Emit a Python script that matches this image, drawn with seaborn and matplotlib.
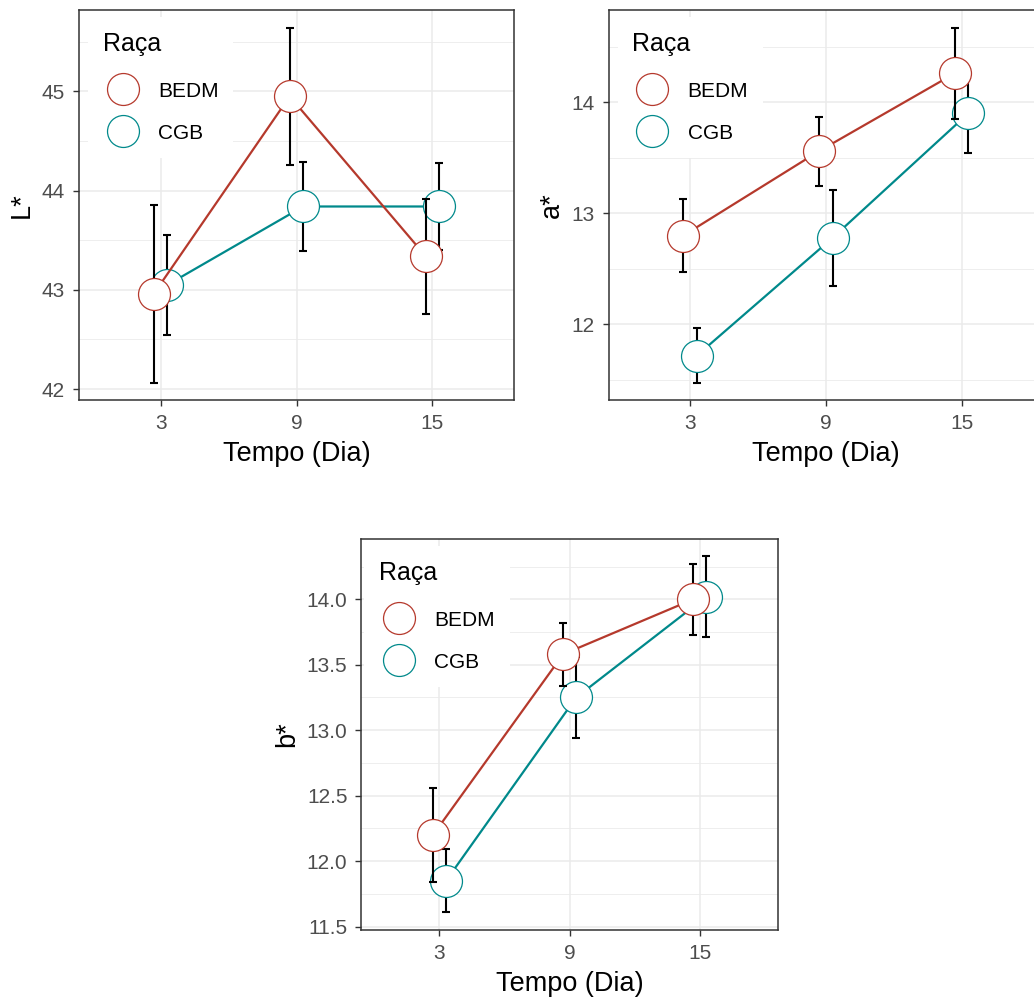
import numpy as np
import pandas as pd
import matplotlib
matplotlib.use("Agg")
import matplotlib.pyplot as plt
import seaborn as sns
from matplotlib.lines import Line2D
from matplotlib.ticker import FixedLocator

# ---------------- data ----------------
dias = ["3", "9", "15"]
racas = ["BEDM", "CGB"]

L_bedm = [42.96, 44.95, 43.34]
L_bedm_se = [0.90, 0.69, 0.58]
L_cgb = [43.05, 43.84, 43.84]
L_cgb_se = [0.50, 0.45, 0.44]

a_bedm = [12.80, 13.56, 14.26]
a_bedm_se = [0.33, 0.31, 0.41]
a_cgb = [11.72, 12.78, 13.90]
a_cgb_se = [0.245, 0.43, 0.355]

b_bedm = [12.20, 13.58, 14.00]
b_bedm_se = [0.36, 0.24, 0.27]
b_cgb = [11.85, 13.25, 14.02]
b_cgb_se = [0.24, 0.31, 0.31]

L_ticks = [42, 43, 44, 45]
a_ticks = [12, 13, 14]
b_ticks = [11.5, 12.0, 12.5, 13.0, 13.5, 14.0]

cores = {"BEDM": "#B5392C", "CGB": "#00898B"}

# ---------------- style ----------------
sns.set_theme(style="white")
plt.rcParams["font.family"] = ["Liberation Sans", "DejaVu Sans"]
plt.rcParams["text.color"] = "black"

W, H = 1034, 998
fig = plt.figure(figsize=(W / 100, H / 100), dpi=100)


def px_axes(left, top, right, bottom):
    return fig.add_axes([left / W, 1 - bottom / H, (right - left) / W, (bottom - top) / H])


def painel(ax, bedm, bedm_se, cgb, cgb_se, ylabel, ylim, ticks, fmt, leg_dx):
    df = pd.DataFrame({
        "Tempo": dias * 2,
        "Raça": ["BEDM"] * 3 + ["CGB"] * 3,
        "valor": list(bedm) + list(cgb),
        "se": list(bedm_se) + list(cgb_se),
    })
    sns.pointplot(data=df, x="Tempo", y="valor", hue="Raça", order=dias,
                  hue_order=racas, palette=cores, dodge=0.1, errorbar=None,
                  markers="o", legend=False, ax=ax)
    lines = list(ax.lines)
    z = {"BEDM": 3.5, "CGB": 2.5}
    for ln, r in zip(lines, racas):
        ln.set_markerfacecolor("white")
        ln.set_markeredgecolor(cores[r])
        ln.set_markersize(23)
        ln.set_markeredgewidth(0.9)
        ln.set_linewidth(1.6)
        ln.set_color(cores[r])
        ln.set_zorder(z[r])
        sub = df[df["Raça"] == r]
        ax.errorbar(ln.get_xdata(), sub["valor"].values, yerr=sub["se"].values,
                    fmt="none", ecolor="black", elinewidth=1.5, capsize=2.6,
                    capthick=1.5, zorder=z[r] - 0.5)

    ax.set_xlim(-0.6, 2.6)
    ax.set_ylim(*ylim)
    ax.yaxis.set_major_locator(FixedLocator(ticks))
    step = ticks[1] - ticks[0]
    minors = [t + step / 2 for t in [ticks[0] - step] + ticks]
    ax.yaxis.set_minor_locator(FixedLocator(minors))
    ax.set_yticklabels([fmt.format(t) for t in ticks])
    ax.set_axisbelow(True)
    ax.grid(which="major", color="#EBEBEB", linewidth=1.1)
    ax.grid(which="minor", axis="y", color="#EBEBEB", linewidth=0.6)
    for s in ax.spines.values():
        s.set_color("#333333")
        s.set_linewidth(1.1)
        s.set_visible(True)
    ax.tick_params(which="major", length=4, width=1.0, color="#333333",
                   labelsize=15, labelcolor="#4D4D4D", pad=6,
                   bottom=True, left=True, direction="out")
    ax.tick_params(which="minor", length=0)
    ax.set_xlabel("Tempo (Dia)", fontsize=19.5, color="black", labelpad=6)
    ax.set_ylabel(ylabel, fontsize=19.5, color="black", labelpad=5)

    handles = [Line2D([], [], marker="o", ls="none", ms=23, mfc="white",
                      mec=cores[r], mew=0.9) for r in racas]
    bb = ax.get_position()
    wpx = bb.width * W
    hpx = bb.height * H
    leg = ax.legend(handles, racas, title="Raça", loc="upper left",
                    bbox_to_anchor=(leg_dx / wpx, 1 - 7 / hpx), borderaxespad=0,
                    frameon=True, facecolor="white", edgecolor="none", framealpha=1,
                    fancybox=False, fontsize=15, title_fontsize=18, alignment="left",
                    borderpad=0.7, handlelength=1.92, handletextpad=0.74,
                    labelspacing=1.05, handleheight=1.0, labelcolor="black")
    leg.get_title().set_color("black")
    # gap (points) between the title and the entries
    leg._legend_box.sep = 17.8


ax1 = px_axes(79, 10, 514, 400)
painel(ax1, L_bedm, L_bedm_se, L_cgb, L_cgb_se, "L*", (41.89, 45.82),
       L_ticks, "{:.0f}", 9)

ax2 = px_axes(608.7, 10, 1043, 400)
painel(ax2, a_bedm, a_bedm_se, a_cgb, a_cgb_se, "a*", (11.32, 14.83),
       a_ticks, "{:.0f}", 9)

ax3 = px_axes(361.3, 539, 778, 930)
painel(ax3, b_bedm, b_bedm_se, b_cgb, b_cgb_se, "b*", (11.475, 14.46),
       b_ticks, "{:.1f}", 3)

fig.savefig("out.png", dpi=100)
